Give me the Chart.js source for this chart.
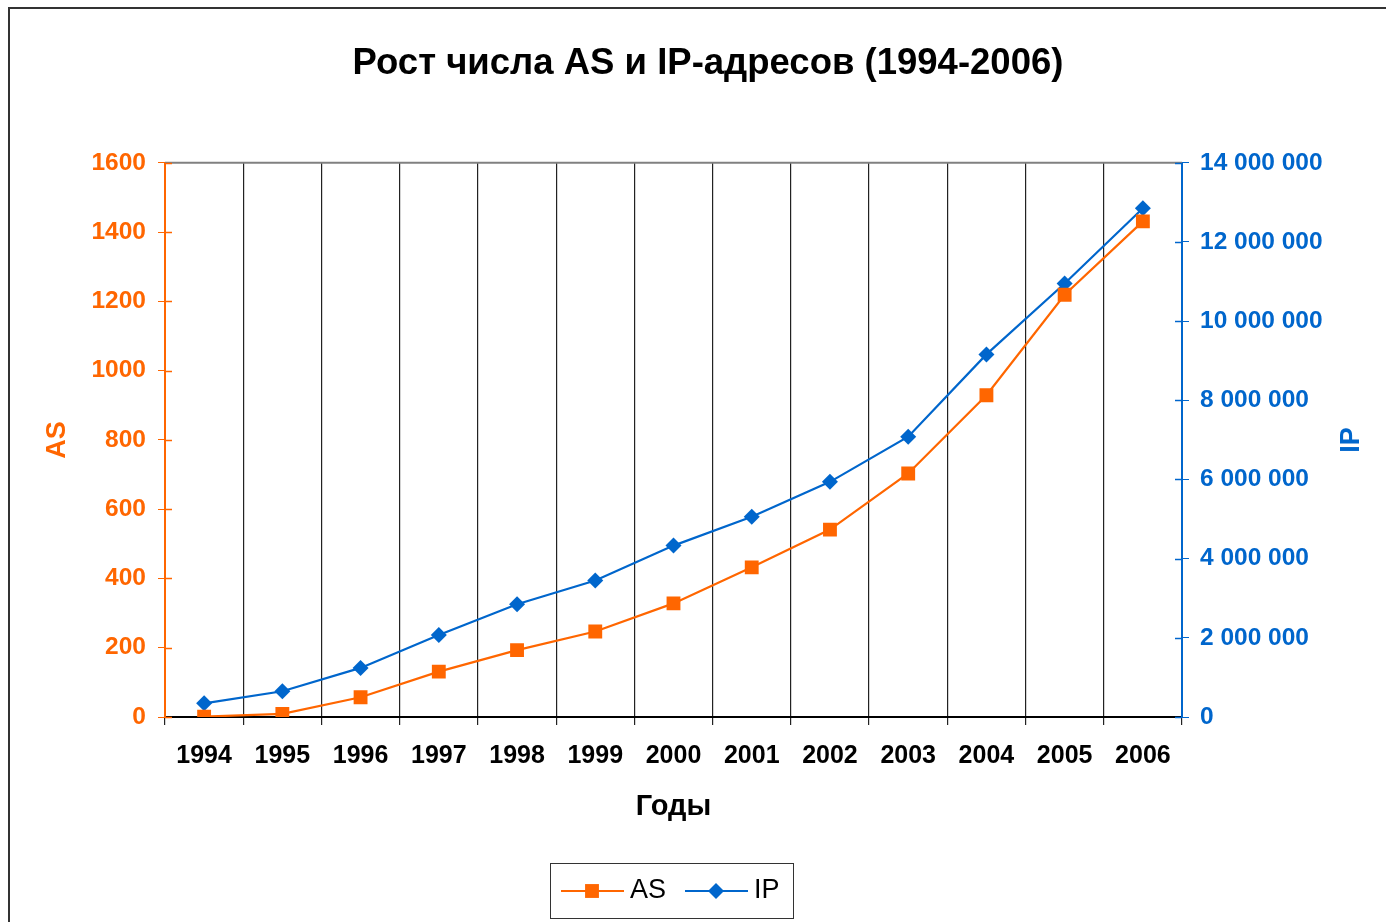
<!DOCTYPE html>
<html>
<head>
<meta charset="utf-8">
<script src="https://cdn.jsdelivr.net/npm/chart.js@4"></script>
<style>
  html, body { margin: 0; padding: 0; background: #fff; overflow: hidden; }
  #frame { position: absolute; left: 8px; top: 7px; width: 1400px; height: 940px;
           border: 2px solid #333; box-sizing: border-box; }
  #wrap { position: absolute; left: 0; top: 0; width: 1386px; height: 922px; }
</style>
</head>
<body>
<div id="frame"></div>
<div id="wrap"><canvas id="chart"></canvas></div>
<script>
// ── Data ────────────────────────────────────────────────────────────────────
const years = ["1994", "1995", "1996", "1997", "1998", "1999", "2000",
               "2001", "2002", "2003", "2004", "2005", "2006"];
const asCounts = [1, 9, 57, 131, 193, 247, 328, 432, 541, 703, 929, 1219, 1431];
const ipCounts = [345000, 650000, 1240000, 2070000, 2850000, 3450000, 4330000,
                  5060000, 5940000, 7080000, 9160000, 10950000, 12850000];

const ORANGE = "#FF6600";
const BLUE = "#0066CC";
const FONT = "'Liberation Sans', Arial, sans-serif";

function fmtSpaces(v) {
  return String(v).replace(/\B(?=(\d{3})+(?!\d))/g, " ");
}

// ── Decorations: top border, inner ticks, axis titles, legend ──────────────
const decor = {
  id: "decor",
  afterDraw(chart) {
    const ctx = chart.ctx;
    const a = chart.chartArea;
    ctx.save();

    // top frame line of plot area
    ctx.strokeStyle = "#808080";
    ctx.lineWidth = 2;
    ctx.beginPath();
    ctx.moveTo(a.left, a.top);
    ctx.lineTo(a.right, a.top);
    ctx.stroke();

    // inner tick stubs
    const yl = chart.scales.y, yr = chart.scales.y2;
    ctx.lineWidth = 1.5;
    ctx.strokeStyle = ORANGE;
    yl.ticks.forEach(t => {
      const py = Math.round(yl.getPixelForValue(t.value)) + 0.5;
      ctx.beginPath(); ctx.moveTo(a.left, py); ctx.lineTo(a.left + 7, py); ctx.stroke();
    });
    ctx.strokeStyle = BLUE;
    yr.ticks.forEach(t => {
      const py = Math.round(yr.getPixelForValue(t.value)) + 0.5;
      ctx.beginPath(); ctx.moveTo(a.right - 7, py); ctx.lineTo(a.right, py); ctx.stroke();
    });

    // axis titles
    const midY = (a.top + a.bottom) / 2;
    ctx.font = "bold 27px " + FONT;
    ctx.textAlign = "center";
    ctx.textBaseline = "middle";
    ctx.fillStyle = ORANGE;
    ctx.save(); ctx.translate(58, midY); ctx.rotate(-Math.PI / 2); ctx.fillText("AS", 0, 0); ctx.restore();
    ctx.fillStyle = BLUE;
    ctx.save(); ctx.translate(1352, midY); ctx.rotate(-Math.PI / 2); ctx.fillText("IP", 0, 0); ctx.restore();

    ctx.fillStyle = "#000";
    ctx.font = "bold 29px " + FONT;
    ctx.fillText("Годы", (a.left + a.right) / 2, 807);

    // legend box
    ctx.strokeStyle = "#333";
    ctx.lineWidth = 1;
    ctx.strokeRect(550.5, 863.5, 243, 55);
    const ly = 891;
    chart.data.datasets.forEach((ds, i) => {
      const x0 = i === 0 ? 561 : 685;
      ctx.strokeStyle = ds.borderColor;
      ctx.lineWidth = 2;
      ctx.beginPath(); ctx.moveTo(x0, ly); ctx.lineTo(x0 + 63, ly); ctx.stroke();
      ctx.fillStyle = ds.backgroundColor;
      Chart.helpers.drawPoint(ctx, { pointStyle: ds.pointStyle, radius: ds.pointRadius, rotation: 0, borderWidth: 0 }, x0 + 31, ly);
      ctx.fillStyle = "#000";
      ctx.font = "27px " + FONT;
      ctx.textAlign = "left";
      ctx.fillText(ds.label, x0 + 69, ly);
    });
    ctx.restore();
  }
};

// ── Chart ───────────────────────────────────────────────────────────────────
new Chart(document.getElementById("chart"), {
  type: "line",
  data: {
    labels: years,
    datasets: [
      {
        label: "AS",
        data: asCounts,
        yAxisID: "y",
        borderColor: ORANGE,
        backgroundColor: ORANGE,
        borderWidth: 2.2,
        pointStyle: "rect",
        pointRadius: 9.8,
        pointBorderWidth: 0,
        tension: 0,
      },
      {
        label: "IP",
        data: ipCounts,
        yAxisID: "y2",
        borderColor: BLUE,
        backgroundColor: BLUE,
        borderWidth: 2.2,
        pointStyle: "rectRot",
        pointRadius: 8,
        pointBorderWidth: 0,
        tension: 0,
      }
    ]
  },
  options: {
    responsive: true,
    maintainAspectRatio: false,
    animation: false,
    layout: { padding: { left: 30 } },
    plugins: {
      legend: { display: false },
      tooltip: { enabled: false },
      title: {
        display: true,
        text: "Рост числа AS и IP-адресов (1994-2006)",
        color: "#000",
        font: { family: FONT, size: 36.5, weight: "bold", lineHeight: 1.2 },
        padding: { top: 42, bottom: 77 },
      }
    },
    scales: {
      x: {
        offset: true,
        afterFit: s => { s.height = 205; },
        grid: { offset: true, color: "#222", lineWidth: 1.2, tickLength: 8, drawTicks: true },
        border: { color: "#000", width: 2 },
        ticks: { color: "#000", padding: 16, font: { family: FONT, size: 25, weight: "bold" } },
      },
      y: {
        position: "left",
        min: 0, max: 1600,
        afterFit: s => { s.width = 135; },
        grid: { drawOnChartArea: false, color: ORANGE, tickLength: 7 },
        border: { color: ORANGE, width: 2 },
        ticks: { stepSize: 200, color: ORANGE, padding: 12, callback: v => String(v),
                 font: { family: FONT, size: 24.5, weight: "bold" } },
      },
      y2: {
        position: "right",
        min: 0, max: 14000000,
        afterFit: s => { s.width = 204; },
        grid: { drawOnChartArea: false, color: BLUE, tickLength: 7 },
        border: { color: BLUE, width: 2 },
        ticks: { stepSize: 2000000, color: BLUE, padding: 11, callback: v => fmtSpaces(v),
                 font: { family: FONT, size: 24.5, weight: "bold" } },
      }
    }
  },
  plugins: [decor]
});
</script>
</body>
</html>
